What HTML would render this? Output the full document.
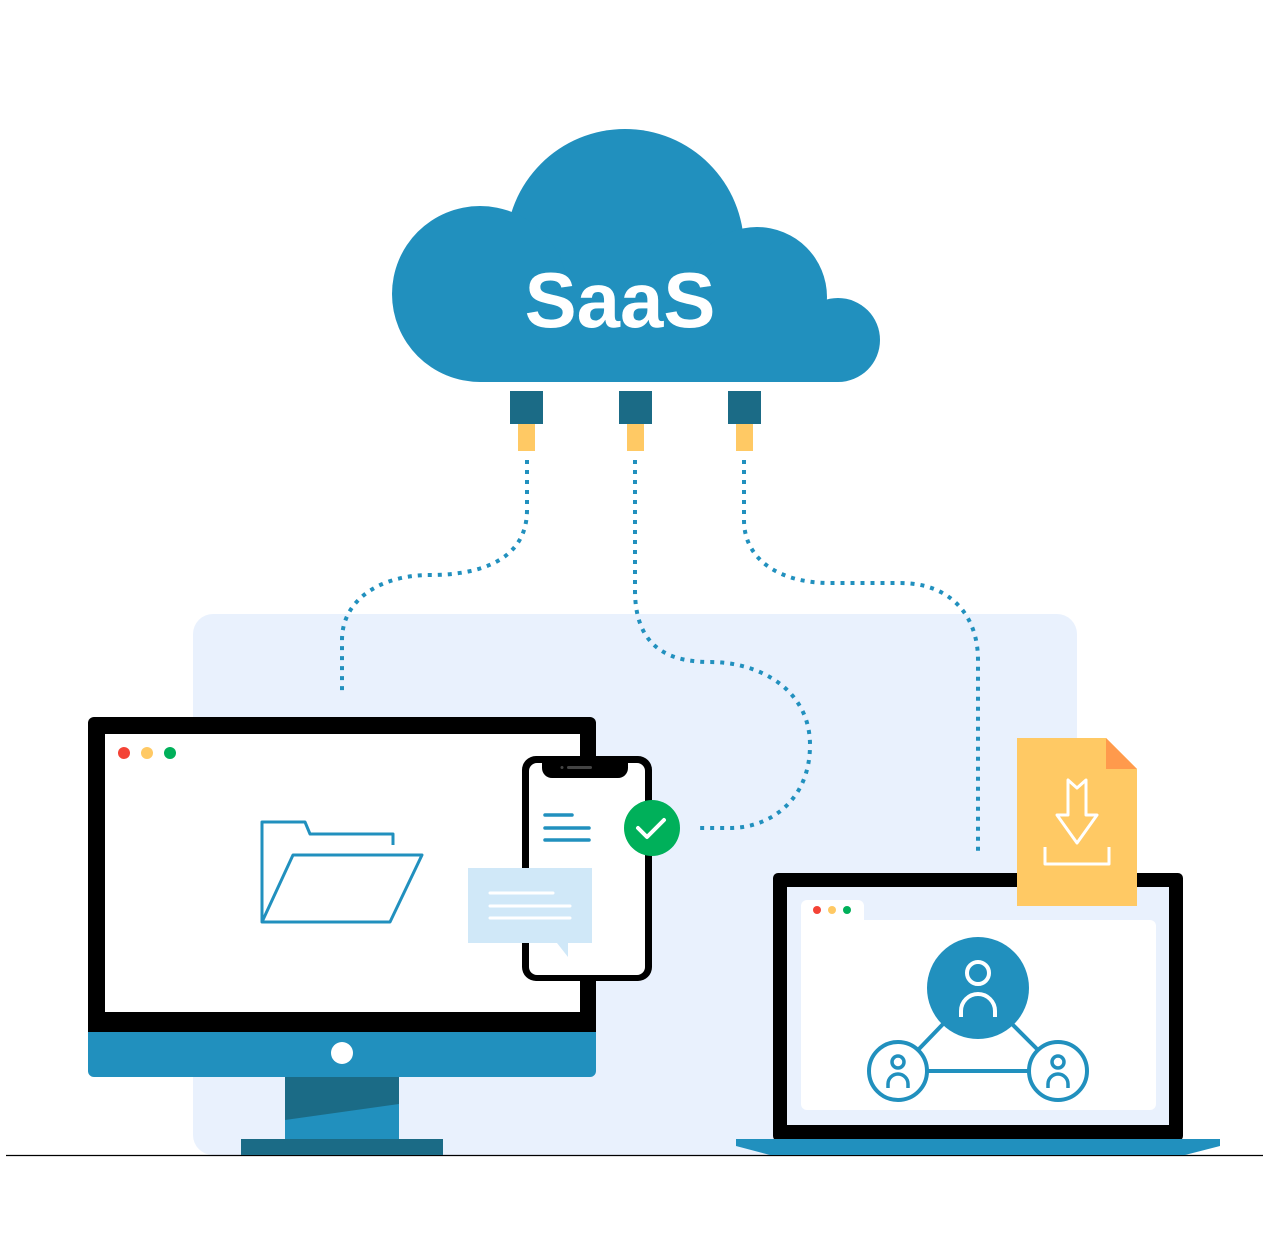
<!DOCTYPE html>
<html><head><meta charset="utf-8"><style>html,body{margin:0;padding:0;background:#fff}svg{display:block}</style></head>
<body>
<svg width="1263" height="1247" viewBox="0 0 1263 1247" xmlns="http://www.w3.org/2000/svg">
<rect x="193" y="614" width="884" height="541" rx="20" fill="#e9f1fd"/>
<line x1="6" y1="1155.5" x2="1263" y2="1155.5" stroke="#000" stroke-width="1.2"/>
<!-- cloud -->
<g fill="#2190be">
<circle cx="625" cy="248" r="119"/>
<circle cx="480" cy="294" r="88"/>
<circle cx="757" cy="297" r="70"/>
<circle cx="838" cy="340" r="42"/>
<rect x="480" y="300" width="358" height="82"/>
</g>
<text x="620" y="327" text-anchor="middle" font-family="Liberation Sans, sans-serif" font-weight="bold" font-size="78" fill="#fff">SaaS</text>
<!-- connectors -->
<g fill="#1b6b86"><rect x="510" y="391" width="33" height="33"/><rect x="619" y="391" width="33" height="33"/><rect x="728" y="391" width="33" height="33"/></g>
<g fill="#ffc964"><rect x="518" y="424" width="17" height="27"/><rect x="627" y="424" width="17" height="27"/><rect x="736" y="424" width="17" height="27"/></g>
<g fill="none" stroke="#2190be" stroke-width="4" stroke-dasharray="4 6">
<path d="M527,460 V510 C527,560 480,575 430,575 C380,575 342,600 342,640 V692"/>
<path d="M635,460 V590 C635,640 660,662 710,662 C760,662 810,690 810,745 C810,800 770,828 730,828 H698"/>
<path d="M744,460 V520 C744,560 780,583 830,583 H900 C950,583 978,615 978,660 V852"/>
</g>
<!-- monitor -->
<rect x="88" y="717" width="508" height="340" rx="6" fill="#000"/>
<rect x="105" y="734" width="475" height="278" fill="#fff"/>
<path d="M88,1032 H596 V1071 a6,6 0 0 1 -6,6 H94 a6,6 0 0 1 -6,-6 Z" fill="#2190be"/>
<circle cx="342" cy="1053" r="11" fill="#fff"/>
<rect x="285" y="1077" width="114" height="62" fill="#2190be"/>
<polygon points="285,1077 399,1077 399,1104 285,1120" fill="#1b6b86"/>
<rect x="241" y="1139" width="202" height="16" fill="#1b6b86"/>
<circle cx="124" cy="753" r="6" fill="#f44336"/><circle cx="147" cy="753" r="6" fill="#ffc964"/><circle cx="170" cy="753" r="6" fill="#00b05a"/>
<g fill="none" stroke="#2190be" stroke-width="3" stroke-linejoin="round">
<path d="M262,922 V822 H305 L310,834 H393 V845"/>
<path d="M262,922 L293,855 H422 L390,922 Z"/>
</g>
<!-- phone -->
<rect x="522" y="756" width="130" height="225" rx="14" fill="#000"/>
<rect x="529" y="763" width="116" height="212" rx="8" fill="#fff"/>
<path d="M542,763 H628 V768 a10,10 0 0 1 -10,10 H552 a10,10 0 0 1 -10,-10 Z" fill="#000"/>
<rect x="567" y="766" width="25" height="3" rx="1.5" fill="#444"/>
<circle cx="562" cy="767.5" r="1.5" fill="#444"/>
<g stroke="#2190be" stroke-width="3.5" stroke-linecap="round"><line x1="545" y1="815" x2="572" y2="815"/><line x1="545" y1="828" x2="589" y2="828"/><line x1="545" y1="840" x2="589" y2="840"/></g>
<circle cx="652" cy="828" r="28" fill="#00b05a"/>
<path d="M638,828 L647,837 L664,820" fill="none" stroke="#fff" stroke-width="4" stroke-linecap="round" stroke-linejoin="round"/>
<rect x="468" y="868" width="124" height="75" fill="#d0e8f8"/>
<polygon points="557,943 568,943 568,957" fill="#d0e8f8"/>
<g stroke="#fff" stroke-width="3" stroke-linecap="round"><line x1="490" y1="893" x2="553" y2="893"/><line x1="490" y1="906" x2="570" y2="906"/><line x1="490" y1="918" x2="570" y2="918"/></g>
<!-- laptop -->
<rect x="773" y="873" width="410" height="268" rx="5" fill="#000"/>
<rect x="787" y="887" width="382" height="238" fill="#e9f1fd"/>
<rect x="801" y="900" width="63" height="30" rx="6" fill="#fff"/>
<rect x="801" y="920" width="355" height="190" rx="6" fill="#fff"/>
<circle cx="817" cy="910" r="4" fill="#f44336"/><circle cx="832" cy="910" r="4" fill="#ffc964"/><circle cx="847" cy="910" r="4" fill="#00b05a"/>
<polygon points="736,1139 1220,1139 1220,1146 1185,1155 770,1155 736,1146" fill="#2190be"/>
<g stroke="#2190be" stroke-width="4"><line x1="918" y1="1050" x2="945" y2="1022"/><line x1="1010" y1="1022" x2="1038" y2="1050"/><line x1="928" y1="1071" x2="1028" y2="1071"/></g>
<circle cx="978" cy="988" r="51" fill="#2190be"/>
<circle cx="898" cy="1071" r="29" fill="#fff" stroke="#2190be" stroke-width="4"/>
<circle cx="1058" cy="1071" r="29" fill="#fff" stroke="#2190be" stroke-width="4"/>
<g fill="none" stroke="#fff" stroke-width="4"><circle cx="978" cy="973" r="11"/><path d="M961,1017 V1011 a17,17 0 0 1 34,0 V1017"/></g>
<g fill="none" stroke="#2190be" stroke-width="3.5"><circle cx="898" cy="1062" r="6"/><path d="M888,1088 V1084 a10,10 0 0 1 20,0 V1088"/><circle cx="1058" cy="1062" r="6"/><path d="M1048,1088 V1084 a10,10 0 0 1 20,0 V1088"/></g>
<!-- document -->
<path d="M1017,738 H1106 L1137,769 V906 H1017 Z" fill="#ffc964"/>
<polygon points="1106,738 1137,769 1106,769" fill="#ff9a4c"/>
<g fill="none" stroke="#fff" stroke-width="3" stroke-linejoin="round"><path d="M1068,780 V815 H1057 L1077,843 L1097,815 H1086 V780 L1077,788 Z"/><path d="M1045,847 V864 H1109 V847"/></g>
</svg>
</body></html>
